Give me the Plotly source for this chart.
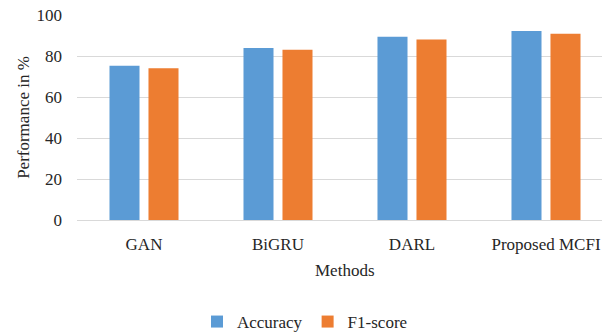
import plotly.graph_objects as go

methods = ["GAN", "BiGRU", "DARL", "Proposed MCFI"]
accuracy = [75.3, 83.9, 89.4, 92.2]
f1_score = [74.0, 83.1, 88.1, 90.9]
y_ticks = [0, 20, 40, 60, 80, 100]

FONT = "Times New Roman, Liberation Serif, Tinos, serif"
TXT = dict(family=FONT, size=17, color="#262626")
W, H = 602, 335
L, R, T, B = 77, 0, 15, 115

fig = go.Figure()
fig.add_trace(go.Bar(name="Accuracy", x=methods, y=accuracy,
                     marker=dict(color="#5B9BD5", line=dict(width=0))))
fig.add_trace(go.Bar(name="F1-score", x=methods, y=f1_score,
                     marker=dict(color="#ED7D31", line=dict(width=0))))

fig.update_layout(
    width=W, height=H,
    margin=dict(l=L, r=R, t=T, b=B, autoexpand=False),
    paper_bgcolor="white", plot_bgcolor="white",
    font=TXT,
    barmode="group", bargap=0.418, bargroupgap=0.23,
    showlegend=True,
    legend=dict(orientation="h", x=(197 - L) / (W - L), xanchor="left",
                y=-(322 - 220) / (220 - T), yanchor="middle",
                font=TXT, itemwidth=30, tracegroupgap=0),
)
# category axis spans a little past the right edge of the figure
fig.update_xaxes(range=[-0.5, 3.418], showgrid=False, showline=False,
                 zeroline=False, ticks="", ticklabelstandoff=12,
                 tickfont=TXT)
fig.update_yaxes(range=[0, 100], tickvals=y_ticks, showgrid=True,
                 gridcolor="#D9D9D9", gridwidth=1.3, zeroline=True,
                 zerolinecolor="#D9D9D9", zerolinewidth=1.3,
                 showline=False, ticks="", ticklabelstandoff=14,
                 tickfont=TXT,
                 title=dict(text="Performance in %", standoff=2, font=TXT))

# x-axis title, centred on the category axis
fig.add_annotation(text="Methods", xref="paper", yref="paper",
                   x=(345 - L) / (W - L), y=-(270 - 220) / (220 - T),
                   xanchor="center", yanchor="middle", showarrow=False,
                   font=TXT)

fig.write_html("out.html")
